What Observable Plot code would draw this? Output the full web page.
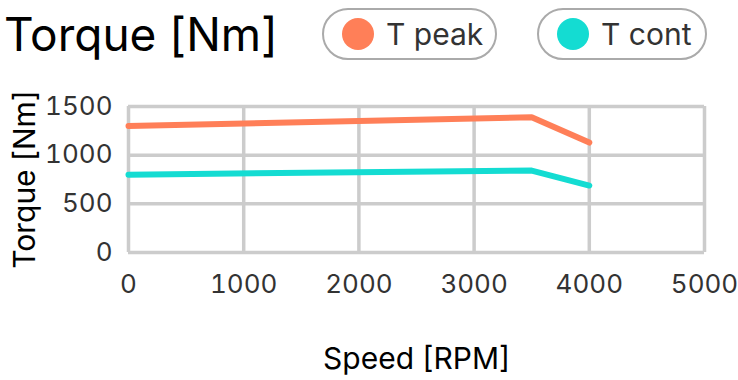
<!DOCTYPE html>
<html><head><meta charset="utf-8">
<script src="https://cdn.jsdelivr.net/npm/d3@7"></script>
<script src="https://cdn.jsdelivr.net/npm/@observablehq/plot@0.6"></script>
<style>
html,body{margin:0;padding:0;background:#fff;font-family:Inter,sans-serif;}
#wrap{width:738px;height:380px;position:relative;overflow:hidden;}
#head{height:68px;position:relative;}
#title{position:absolute;left:4px;top:6px;font-size:46px;color:#000;line-height:56px;}
.pill{position:absolute;top:8px;height:48px;border:2px solid #aaa;border-radius:27px;box-sizing:content-box;display:flex;align-items:center;}
.dot{width:32px;height:32px;border-radius:50%;margin-left:18px;margin-right:12px;}
.lab{font-size:30px;color:#333;}
#chart svg{overflow:visible;}
</style></head>
<body><div id="wrap"><div id="head">
<div id="title">Torque [Nm]</div>
<div class="pill" style="left:322px;width:171px"><div class="dot" style="background:#ff7f58"></div><span class="lab">T peak</span></div>
<div class="pill" style="left:537px;width:166px"><div class="dot" style="background:#14dcd2"></div><span class="lab">T cont</span></div>
</div><div id="chart"></div></div>
<script>
const speed = [0, 3500, 4000];
const tPeak = [1300, 1390, 1130];
const tCont = [800, 842, 688];
const xTicks = [0, 1000, 2000, 3000, 4000, 5000];
const yTicks = [0, 500, 1000, 1500];
const series = [
  {name: "T peak", values: tPeak, color: "#ff7f58"},
  {name: "T cont", values: tCont, color: "#14dcd2"}
];
const rows = series.flatMap(s => speed.map((x, i) => ({speed: x, torque: s.values[i], name: s.name})));
const chart = Plot.plot({
  width: 738, height: 312,
  marginTop: 38, marginBottom: 128, marginLeft: 128, marginRight: 34,
  style: {fontFamily: "Inter, sans-serif", background: "#fff", overflow: "visible"},
  x: {domain: [0, 5000], ticks: xTicks, label: null},
  y: {domain: [0, 1500], ticks: yTicks, label: null},
  color: {domain: series.map(s => s.name), range: series.map(s => s.color)},
  marks: [
    Plot.gridX(xTicks, {stroke: "#cccccc", strokeOpacity: 1, strokeWidth: 3.5}),
    Plot.gridY(yTicks, {stroke: "#cccccc", strokeOpacity: 1, strokeWidth: 3.5}),
    Plot.axisX(xTicks, {tickSize: 0, tickPadding: 22, fontSize: 26, fill: "#333", label: null, tickFormat: d => String(d)}),
    Plot.axisY(yTicks, {tickSize: 0, tickPadding: 16, fontSize: 26, fill: "#333", label: null, tickFormat: d => String(d)}),
    Plot.line(rows, {x: "speed", y: "torque", z: "name", stroke: "name", strokeWidth: 6, strokeLinecap: "round", strokeLinejoin: "round"}),
    Plot.text(["Speed [RPM]"], {frameAnchor: "bottom", dy: 116, fontSize: 30, fill: "#000", text: d => d}),
    Plot.text(["Torque [Nm]"], {frameAnchor: "left", textAnchor: "middle", dx: -103, rotate: -90, fontSize: 30, fill: "#000", text: d => d})
  ]
});
document.getElementById("chart").appendChild(chart);
</script></body></html>
